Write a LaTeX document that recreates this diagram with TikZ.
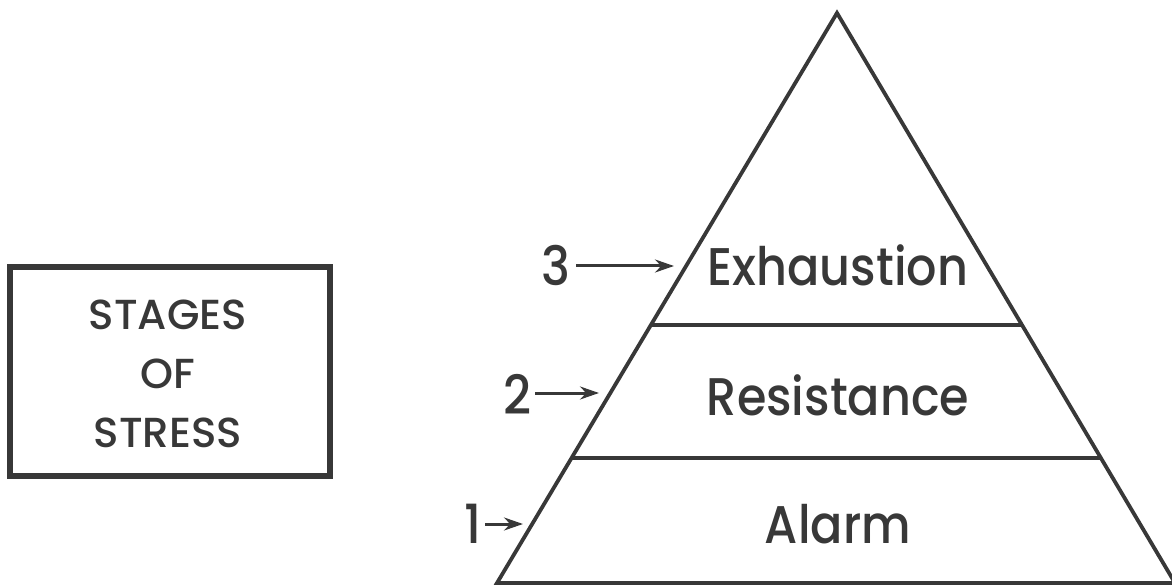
\documentclass[tikz,border=0pt]{standalone}
\usepackage{fontspec}
\setmainfont{Poppins}[UprightFont=* Medium]
\usetikzlibrary{arrows.meta,calc}
\definecolor{ink}{HTML}{383838}
\newcommand{\squeeze}[1]{\scalebox{0.9}[1]{#1}}
\tikzset{
  edge/.style={draw=ink, line width=3.8pt},
  boxline/.style={draw=ink, line width=5.5pt},
  stagetxt/.style={text=ink, font=\fontsize{53}{53}\selectfont, inner sep=0pt, anchor=base},
  numtxt/.style={text=ink, font=\fontsize{54}{54}\selectfont, inner sep=0pt, anchor=base},
  titletxt/.style={text=ink, font=\fontsize{42}{59}\selectfont, align=center, inner sep=0pt},
  ptr/.style={draw=ink, line width=3pt, -{Stealth[length=19pt,width=13pt]}}
}
\begin{document}
\begin{tikzpicture}[x=1pt,y=-1pt]
\useasboundingbox (0,0) rectangle (1172,585);
% triangle
\coordinate (apex) at (837,13);
\coordinate (bl) at (497,583);
\coordinate (br) at (1175,583);
\draw[edge, line join=miter] (bl) -- (apex) -- (br) -- cycle;
% dividing lines
\coordinate (l1) at ($(apex)!{(325-13)/570}!(bl)$);
\coordinate (r1) at ($(apex)!{(325-13)/570}!(br)$);
\coordinate (l2) at ($(apex)!{(458-13)/570}!(bl)$);
\coordinate (r2) at ($(apex)!{(458-13)/570}!(br)$);
\draw[edge] (l1) -- (r1);
\draw[edge] (l2) -- (r2);
% stage labels
\node[stagetxt] (exh) at (838,285) {\squeeze{Exhaustion}};
\node[stagetxt] (res) at (838,415) {\squeeze{Resistance}};
\node[stagetxt] (ala) at (838,543) {\squeeze{Alarm}};
% numbers and arrows
\node[numtxt, anchor=base east] (n3) at (571,286) {\squeeze{3}};
\node[numtxt, anchor=base east] (n2) at (532,414) {\squeeze{2}};
\node[numtxt, anchor=base east] (n1) at (482,543) {\squeeze{1}};
\coordinate (t3) at (674,266);
\coordinate (t2) at (599,393);
\coordinate (t1) at (523,524);
\draw[ptr] (n3.east |- t3) ++(5,0) -- (t3);
\draw[ptr] (n2.east |- t2) ++(3,0) -- (t2);
\draw[ptr] (n1.east |- t1) ++(3,0) -- (t1);
% title box
\draw[boxline] (10,267) rectangle (330,476);
\node[titletxt] (title) at (168,374) {STAGES\\OF\\STRESS};
\end{tikzpicture}
\end{document}
